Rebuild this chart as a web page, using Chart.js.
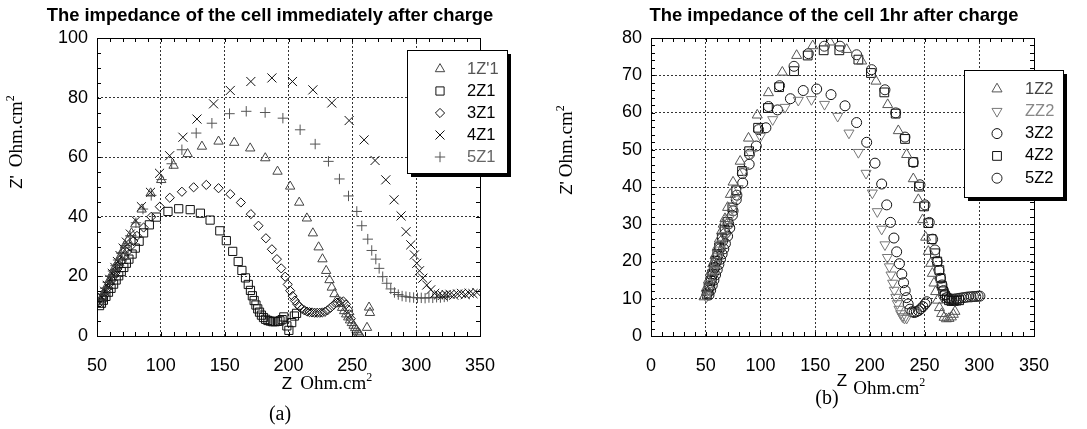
<!DOCTYPE html>
<html>
<head>
<meta charset="utf-8">
<script src="https://cdn.jsdelivr.net/npm/chart.js"></script>
<style>
body { margin: 0; background: #fff; }
#chartA { position: absolute; left: 0; top: 0; }
#chartB { position: absolute; left: 545px; top: 0; }
</style>
</head>
<body>
<canvas id="chartA" width="540" height="429"></canvas>
<canvas id="chartB" width="542" height="429"></canvas>
<script>
// ---- chart (a): immediately after charge ----
var a1x = [52, 54, 56, 58, 60, 62, 64, 66, 68, 70, 72, 74, 77, 80, 85, 92, 100.3, 110, 121, 132.2, 145.2, 157.5, 170, 181.8, 191.4, 201.3, 208.4, 214.4, 219.1, 223.6, 226.6, 229.5, 232.1, 233.9, 236, 238.2, 240.2, 242, 243.6, 245.2, 246.8, 248.2, 249.6, 251, 252.2, 253.3, 254.3, 255.2, 256, 261.5, 263.1, 263.8];
var a1y = [11.5, 13, 15, 17, 19, 21, 23, 24.5, 26.5, 28.5, 30.5, 32, 34.5, 37.5, 42.5, 47.9, 52.4, 57.2, 61.1, 63.6, 65.3, 64.9, 63, 59.7, 55.2, 50.2, 44.8, 39.5, 34.5, 29.8, 25.8, 21.9, 18.8, 16.3, 14.1, 12.3, 10.8, 9.5, 8.4, 7.3, 6.3, 5.3, 4.4, 3.5, 2.7, 2, 1.3, 0.8, 0.4, 2.8, 9.6, 7.8];

var a2x = [52, 53.5, 55, 57, 59, 61, 63, 65, 67, 69, 71, 73, 75, 77.5, 80, 83, 86.5, 91, 96.5, 105.6, 114, 123, 131, 138.6, 146.2, 151.3, 156.3, 160.6, 163.5, 166.3, 168.5, 170.2, 171.7, 173.1, 174.5, 175.9, 177.3, 178.8, 180.4, 182.1, 183.9, 185.8, 187.7, 189.6, 191.5, 193.3, 195, 196.3, 198.7, 200.3, 202.5, 204.6, 206.3];
var a2y = [10.2, 11, 12, 13.3, 14.7, 16, 17.4, 18.8, 20.2, 21.6, 23, 24.4, 25.8, 27.5, 29.5, 31.8, 34.6, 37.3, 39.9, 41.8, 42.7, 42.4, 41.2, 38.9, 35.3, 32, 28.4, 25, 22, 19.5, 17.3, 15.3, 13.5, 11.9, 10.4, 9.1, 8, 7, 6.2, 5.6, 5.2, 5, 4.8, 4.8, 4.9, 5.1, 5.5, 6.4, 3.4, 1.9, 4.5, 6.7, 7.6];

var a3x = [52.5, 54, 55.5, 57, 58.5, 60, 61.5, 63, 64.5, 66, 67.5, 69.5, 71.5, 73.5, 76, 78.5, 81.3, 86.5, 92.5, 99.2, 107, 116.5, 125.7, 135.6, 145.2, 154.4, 162.7, 170.5, 176.5, 182.3, 187, 190.9, 194.3, 197.4, 199.4, 201.3, 203.2, 205, 206.8, 208.6, 210.5, 212.5, 214.5, 216.5, 218.5, 220.5, 222.5, 224.5, 226.5, 228.5, 230.5, 233, 235.5, 238, 240.5, 243, 245, 246.5, 247.6, 248.8];
var a3y = [11.3, 12.5, 13.7, 15, 16.2, 17.5, 18.7, 20, 21.2, 22.5, 23.7, 25.2, 26.7, 28.2, 30, 31.9, 33.6, 36.4, 40, 43.4, 46.4, 48.4, 49.9, 50.7, 49.6, 47.6, 44.8, 40.9, 37, 32.8, 29.1, 25.8, 22.7, 19.9, 17.3, 15.2, 13.4, 11.9, 10.7, 9.8, 9.1, 8.6, 8.2, 8, 7.9, 7.8, 7.8, 7.8, 7.9, 8.1, 8.6, 9.5, 10.5, 11.2, 11.6, 11.6, 10.6, 9, 7.3, 5.8];

var a4x = [52, 54, 56, 58, 60, 62, 64, 66, 68, 70.5, 73, 76.1, 80.5, 84.8, 91.9, 99, 106.9, 117.3, 128.3, 141.3, 154.4, 170.5, 187, 203.1, 219.1, 233.9, 247.5, 259.2, 267.8, 276.2, 282.7, 288.2, 292.1, 295.8, 298.6, 300.5, 302.6, 305.2, 308.3, 311.4, 314.5, 317.5, 320.5, 323.5, 326.5, 329.5, 332.5, 335.5, 338.5, 341.5, 344.5, 347.5];
var a4y = [11, 13, 15, 17, 19, 21, 23, 25, 27, 29.5, 31.5, 34.2, 38.7, 43.4, 48.2, 54.6, 60.5, 66.7, 72.8, 77.9, 82.4, 85.4, 86.6, 85.4, 82.6, 78.2, 72.3, 65.8, 58.9, 52.4, 45.7, 40.3, 35, 30.6, 27.2, 24.4, 21.9, 19.4, 17.1, 15.5, 14.3, 13.8, 13.6, 13.9, 14, 13.7, 14.1, 14.3, 13.9, 14.4, 14.2, 14.6];

var a5x = [52.5, 54.5, 56.5, 58.5, 60.5, 62.5, 64.5, 66.5, 69, 72, 76, 80.5, 86, 92.5, 100.5, 108.5, 116.5, 127.7, 140, 153.8, 166.9, 181.7, 195.6, 209.1, 220.9, 231.3, 239.9, 247, 253.5, 257.4, 262.1, 265.2, 268.4, 271, 273.8, 277, 280.1, 283, 286, 289, 292, 295, 298, 301, 304, 307, 310, 313, 316, 319, 322, 324.5];
var a5y = [12, 14, 16, 18, 20, 21.8, 23.6, 25.5, 27.8, 30.3, 33.6, 38, 42.6, 47.2, 52.5, 57.8, 62.5, 68.1, 71.4, 74.6, 75.4, 75, 73.1, 69.2, 64.4, 58.6, 52.7, 47, 41.8, 37, 32.5, 28.7, 25.8, 22.7, 19.9, 17.7, 15.8, 14.6, 13.9, 13.4, 13.2, 13, 12.9, 12.8, 12.8, 12.7, 12.9, 12.8, 13, 12.9, 13.1, 13.3];

var labelsA = ["1Z'1", "2Z1", "3Z1", "4Z1", "5Z1"];

// ---- chart (b): 1hr after charge ----
var b1x = [48.5, 50.5, 52.5, 54.5, 56.5, 58.5, 60.5, 62.5, 64.5, 66, 67.6, 70, 72.5, 75, 81.5, 89.1, 97.1, 107.3, 120, 133.1, 147.8, 163.6, 178.8, 192.5, 205.6, 216.3, 226, 233.6, 239.7, 244.3, 248.2, 251, 253.4, 255.6, 257.1, 258.6, 260.1, 261.8, 263.6, 265.6, 267.8, 270, 272.3, 274.5, 276.3, 277.8];
var b1y = [10.5, 12.8, 15, 17.2, 19.4, 21.6, 23.8, 26, 28.2, 30, 31.5, 34.5, 38, 41.3, 46.9, 53.1, 59.3, 65.3, 70.8, 75.3, 77.9, 78.9, 76.9, 73.8, 68.4, 62.1, 55.1, 48.7, 42.2, 36.6, 31.2, 26.5, 22.7, 19.5, 16.8, 14.2, 11.9, 9.6, 7.6, 6, 5, 4.6, 4.7, 5.1, 5.8, 6.6];

var b2x = [50.5, 52.3, 54.1, 55.9, 57.7, 59.5, 61.3, 63.1, 64.9, 67, 69.3, 71.7, 74.2, 76.8, 79.6, 85, 91.1, 100, 111.2, 122.5, 134.6, 146.6, 158.6, 170.6, 180.9, 189.5, 196.5, 202.3, 206.8, 210.8, 213.8, 216, 217.8, 219.3, 220.8, 222.3, 223.7, 225.1, 226.6, 228.2, 229.8, 231.6, 233.6];
var b2y = [10.5, 12.3, 14.1, 15.9, 17.7, 19.5, 21.3, 23.1, 24.9, 27, 29.3, 31.7, 34.2, 36.8, 39.6, 44.4, 48.9, 53.6, 58.1, 61.4, 63.3, 63.5, 62.2, 59, 54.5, 49.3, 43.7, 38.4, 33.4, 28.7, 24.5, 21.1, 18.6, 16.4, 14.2, 12.3, 10.4, 8.7, 7.2, 6, 5.2, 4.8, 4.8];

var b3x = [53, 54.5, 56, 57.5, 59, 60.5, 62, 63.5, 65, 66.5, 68, 70, 72, 74.4, 77.9, 83.8, 89.7, 96.2, 105, 115.6, 127.4, 139.1, 151.4, 164.5, 177.3, 187.9, 197.1, 204.7, 210.8, 215.4, 218.8, 222, 224.5, 227, 229.2, 230.8, 232.3, 233.6, 235, 236.6, 238.5, 240.5, 242.5, 244.5, 246.5, 248.5, 250.5, 252];
var b3y = [11, 12.3, 13.6, 15, 16.4, 17.8, 19.2, 20.6, 22, 23.4, 24.8, 26.8, 29, 32.4, 36.6, 41.1, 46.1, 51, 55.9, 60.7, 63.7, 65.9, 66.3, 64.8, 61.8, 57.3, 52, 46.4, 40.8, 35.2, 30.5, 26.3, 22.6, 19.4, 16.6, 14.3, 12.2, 10.3, 8.6, 7.2, 6.5, 6.3, 6.5, 6.8, 7.3, 7.9, 8.6, 9.2];

var b4x = [51, 52.6, 54.2, 55.8, 57.4, 59, 60.6, 62.2, 64.7, 67.3, 70, 74.4, 77.9, 83.2, 89.7, 97.9, 106.8, 117.1, 130.7, 143.2, 157.8, 172.1, 189.5, 201, 213.2, 223.6, 232.1, 239.7, 244.9, 249.5, 253.4, 256.5, 259.5, 261.6, 263.5, 264.7, 265.8, 267, 268.5, 270.3, 272.3, 274.5, 276.8, 279.2, 281.6];
var b4y = [11.2, 13, 14.8, 16.6, 18.4, 20.2, 22, 23.8, 26.4, 28.5, 30.6, 34.5, 39.1, 44.3, 49.6, 55.9, 61.2, 66.8, 71.1, 75.3, 76.7, 76.7, 74.2, 70.6, 65.4, 59.7, 52.9, 46.7, 40.1, 34.8, 30.3, 26, 22.2, 20, 17.7, 15.5, 13.5, 12, 10.9, 10.1, 9.6, 9.4, 9.4, 9.5, 9.6];

var b5x = [52, 53.6, 55.2, 56.8, 58.4, 60, 61.6, 63.2, 65.5, 68, 71, 75, 78.5, 83.5, 90, 98.3, 107.4, 117.5, 130.7, 143.8, 158.4, 172.7, 187.9, 201.6, 213.8, 223.6, 232.1, 239.7, 245.8, 250.4, 254.3, 257.4, 259.5, 261.6, 263.2, 264.6, 265.9, 267.3, 268.9, 270.7, 272.7, 274.8, 277, 279.2, 281.4, 283.6, 285.8, 288, 290.2, 292.4, 294.6, 296.8, 298.9, 300.6];
var b5y = [11.6, 13.3, 15, 16.7, 18.4, 20.1, 21.8, 23.5, 25.5, 27.6, 30.1, 33.6, 37.8, 43.6, 48.8, 55.4, 61.6, 67.2, 72.4, 75.8, 77.8, 77.8, 75.5, 71.5, 66.1, 59.9, 53.4, 46.6, 40.6, 35.2, 30.5, 26, 23.1, 20, 17.6, 15.5, 13.7, 12.2, 11.1, 10.4, 10, 9.9, 9.9, 10, 10.1, 10.2, 10.3, 10.4, 10.5, 10.5, 10.6, 10.6, 10.7, 10.7];

var labelsB = ["1Z2", "ZZ2", "3Z2", "4Z2", "5Z2"];

function pts(xs, ys) {
    return xs.map(function (x, i) { return {x: x, y: ys[i]}; });
}

function series(label, xs, ys, style, color, r, rot) {
    return {
        label: label,
        data: pts(xs, ys),
        showLine: false,
        pointStyle: style,
        pointRadius: r,
        pointHoverRadius: r,
        pointRotation: rot || 0,
        borderColor: color,
        pointBorderColor: color,
        pointBackgroundColor: 'rgba(0,0,0,0)',
        pointBorderWidth: 1
    };
}

var SANS = '"Liberation Sans", Arial, sans-serif';
var SERIF = '"Liberation Serif", "Times New Roman", serif';

function unitLabel(ctx, x, y, zText, gap, zDy) {
    ctx.font = '17px ' + SANS;
    var wz = ctx.measureText(zText).width;
    ctx.font = '19px ' + SERIF;
    var wo = ctx.measureText('Ohm.cm').width;
    ctx.font = '12px ' + SERIF;
    var ws = ctx.measureText('2').width;
    var cx = x - (wz + gap + wo + ws) / 2;
    ctx.textAlign = 'left';
    ctx.textBaseline = 'alphabetic';
    ctx.font = '17px ' + SANS;
    ctx.fillText(zText, cx, y + zDy);
    cx += wz + gap;
    ctx.font = '19px ' + SERIF;
    ctx.fillText('Ohm.cm', cx, y);
    cx += wo;
    ctx.font = '12px ' + SERIF;
    ctx.fillText('2', cx, y - 8);
}

// frame, inner ticks, titles, legend box
var deco = {
    id: 'deco',
    afterDraw: function (chart, args, o) {
        var ctx = chart.ctx, a = chart.chartArea;
        var xs = chart.scales.x, ys = chart.scales.y;
        ctx.save();
        ctx.strokeStyle = '#000';
        ctx.lineWidth = 1;
        ctx.beginPath();
        xs.ticks.forEach(function (t) {
            var p = Math.round(xs.getPixelForValue(t.value)) + 0.5;
            ctx.moveTo(p, a.bottom); ctx.lineTo(p, a.bottom - 4);
            ctx.moveTo(p, a.top); ctx.lineTo(p, a.top + 4);
        });
        ys.ticks.forEach(function (t) {
            var p = Math.round(ys.getPixelForValue(t.value)) + 0.5;
            ctx.moveTo(a.left, p); ctx.lineTo(a.left + 4, p);
            ctx.moveTo(a.right, p); ctx.lineTo(a.right - 4, p);
        });
        ctx.stroke();
        ctx.strokeRect(Math.round(a.left) + 0.5, Math.round(a.top) + 0.5, Math.round(a.width), Math.round(a.height));

        ctx.fillStyle = '#000';
        ctx.font = 'bold 18.4px ' + SANS;
        ctx.textAlign = 'center';
        ctx.textBaseline = 'middle';
        ctx.fillText(o.title, o.titleX, o.titleY);

        ctx.font = '20px ' + SERIF;
        ctx.fillText(o.caption, o.capX, o.capY);

        unitLabel(ctx, o.xLabX, o.xLabY, 'Z', o.xGap, o.zDy);

        ctx.save();
        ctx.translate(o.yLabX, o.yLabY);
        ctx.rotate(-Math.PI / 2);
        unitLabel(ctx, 0, 0, "Z'", o.yGap, 0);
        ctx.restore();

        // legend
        var L = o.legend;
        ctx.fillStyle = '#000';
        ctx.fillRect(L.x + 4, L.y + 4, L.w, L.h);
        ctx.fillStyle = '#fff';
        ctx.fillRect(L.x, L.y, L.w, L.h);
        ctx.strokeRect(L.x + 0.5, L.y + 0.5, L.w, L.h);
        ctx.font = '16.5px ' + SANS;
        ctx.textAlign = 'left';
        ctx.textBaseline = 'middle';
        chart.data.datasets.forEach(function (ds, i) {
            var yy = L.rowY + i * L.rowH;
            ctx.strokeStyle = ds.borderColor;
            ctx.fillStyle = 'rgba(0,0,0,0)';
            ctx.lineWidth = 1;
            Chart.helpers.drawPoint(ctx, {
                pointStyle: ds.pointStyle, rotation: ds.pointRotation,
                radius: ds.pointRadius, borderWidth: 1
            }, L.markX, yy);
            ctx.fillStyle = L.colors[i];
            ctx.fillText(ds.label, L.textX, yy);
        });
        ctx.restore();
    }
};

function isMul(v, m) {
    var r = Math.abs(v % m);
    return r < 1e-6 || Math.abs(r - m) < 1e-6;
}

function axes(xmin, xmax, xminor, xmajor, ymin, ymax, yminor, ymajor, yWidth) {
    var tickFont = {family: SANS, size: 18};
    return {
        x: {
            type: 'linear', min: xmin, max: xmax,
            afterFit: function (s) { s.height = 50; },
            ticks: {
                stepSize: xminor, autoSkip: false, maxRotation: 0, minRotation: 0,
                padding: 19, color: '#000', font: tickFont,
                callback: function (v) { return isMul(v, xmajor) ? String(v) : ''; }
            },
            grid: {
                drawTicks: false,
                color: function (c) { return c.tick && isMul(c.tick.value, xmajor) ? '#333' : 'rgba(0,0,0,0)'; }
            },
            border: {display: false, dash: [2, 2]}
        },
        y: {
            type: 'linear', min: ymin, max: ymax,
            afterFit: function (s) { s.width = yWidth; },
            ticks: {
                stepSize: yminor, autoSkip: false,
                padding: 9, color: '#000', font: tickFont,
                callback: function (v) { return isMul(v, ymajor) ? String(v) : ''; }
            },
            grid: {
                drawTicks: false,
                color: function (c) { return c.tick && isMul(c.tick.value, ymajor) ? '#333' : 'rgba(0,0,0,0)'; }
            },
            border: {display: false, dash: [2, 2]}
        }
    };
}

new Chart(document.getElementById('chartA').getContext('2d'), {
    type: 'scatter',
    data: {
        datasets: [
            series(labelsA[0], a1x, a1y, 'triangle', '#444', 5.4),
            series(labelsA[1], a2x, a2y, 'rect', '#111', 5.8),
            series(labelsA[2], a3x, a3y, 'rectRot', '#111', 4.6),
            series(labelsA[3], a4x, a4y, 'crossRot', '#111', 6.4),
            series(labelsA[4], a5x, a5y, 'cross', '#555', 5.2)
        ]
    },
    plugins: [deco],
    options: {
        responsive: false,
        animation: false,
        layout: {padding: {left: 0, right: 60, top: 38, bottom: 43}},
        scales: axes(50, 350, 10, 50, 0, 100, 5, 20, 97),
        plugins: {
            legend: {display: false},
            tooltip: {enabled: false},
            deco: {
                title: 'The impedance of the cell immediately after charge',
                titleX: 270, titleY: 16,
                caption: '(a)', capX: 280, capY: 415,
                xLabX: 327, xLabY: 389, xGap: 8, zDy: 0,
                yLabX: 22, yLabY: 142, yGap: 8,
                legend: {x: 407, y: 50, w: 100, h: 123, markX: 440, textX: 467, rowY: 69, rowH: 22,
                         colors: ['#555', '#000', '#000', '#000', '#666']}
            }
        }
    }
});

new Chart(document.getElementById('chartB').getContext('2d'), {
    type: 'scatter',
    data: {
        datasets: [
            series(labelsB[0], b1x, b1y, 'triangle', '#555', 5.8),
            series(labelsB[1], b2x, b2y, 'triangle', '#777', 5.8, 180),
            series(labelsB[2], b3x, b3y, 'circle', '#111', 5),
            series(labelsB[3], b4x, b4y, 'rect', '#111', 6.2),
            series(labelsB[4], b5x, b5y, 'circle', '#222', 5)
        ]
    },
    plugins: [deco],
    options: {
        responsive: false,
        animation: false,
        layout: {padding: {left: 0, right: 53, top: 38, bottom: 43}},
        scales: axes(0, 350, 10, 50, 0, 80, 2, 10, 106),
        plugins: {
            legend: {display: false},
            tooltip: {enabled: false},
            deco: {
                title: 'The impedance of the cell 1hr after charge',
                titleX: 289, titleY: 16,
                caption: '(b)', capX: 282, capY: 399,
                xLabX: 336, xLabY: 394, xGap: 6, zDy: -8,
                yLabX: 27, yLabY: 150, yGap: 4,
                legend: {x: 419, y: 70, w: 99, h: 127, markX: 452, textX: 480, rowY: 89, rowH: 22.3,
                         colors: ['#444', '#888', '#000', '#000', '#000']}
            }
        }
    }
});
</script>
</body>
</html>
